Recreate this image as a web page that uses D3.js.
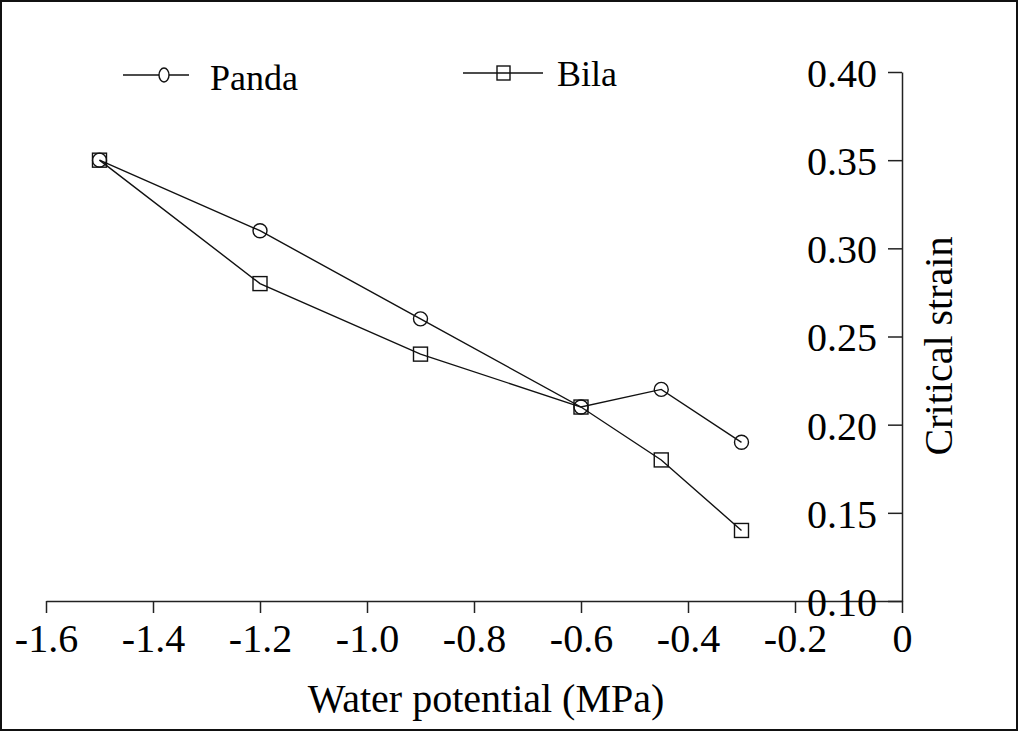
<!DOCTYPE html>
<html lang="en">
<head>
<meta charset="UTF-8">
<title>Critical strain vs water potential</title>
<script src="https://cdn.jsdelivr.net/npm/d3@7"></script>
<style>
    body { margin: 0; padding: 0; background: #fff; }
    svg { display: block; }
    text { font-family: "Liberation Serif", "Times New Roman", serif; fill: #000; }
</style>
</head>
<body>
<div id="chart"></div>
<script>
    const width = 1018;
    const height = 731;

    // data
    const waterPotential = [-1.5, -1.2, -0.9, -0.6, -0.45, -0.3];
    const panda = [0.35, 0.31, 0.26, 0.21, 0.22, 0.19];
    const bila = [0.35, 0.28, 0.24, 0.21, 0.18, 0.14];
    const xTicks = [-1.6, -1.4, -1.2, -1.0, -0.8, -0.6, -0.4, -0.2, 0];
    const yTicks = [0.10, 0.15, 0.20, 0.25, 0.30, 0.35, 0.40];

    const svg = d3.select("#chart").append("svg")
        .attr("width", width)
        .attr("height", height);

    // outer frame
    svg.append("rect")
        .attr("x", 1).attr("y", 1)
        .attr("width", width - 2).attr("height", height - 2)
        .attr("fill", "none")
        .attr("stroke", "#111")
        .attr("stroke-width", 2);

    const x = d3.scaleLinear().domain([-1.6, 0]).range([46, 902]);
    const y = d3.scaleLinear().domain([0.10, 0.40]).range([601, 72]);

    // x axis
    const xAxis = svg.append("g")
        .attr("transform", `translate(0,${y(0.10)})`)
        .call(d3.axisBottom(x).tickValues(xTicks).tickSize(12).tickSizeOuter(0).tickPadding(11)
            .tickFormat(d => d === 0 ? "0" : d.toFixed(1)));
    xAxis.selectAll("text").style("font-size", "40px").attr("font-family", null);

    // y axis on the right side, ticks pointing left
    const yAxis = svg.append("g")
        .attr("transform", `translate(${x(0)},0)`)
        .call(d3.axisLeft(y).tickValues(yTicks).tickSize(14).tickSizeOuter(0).tickPadding(11)
            .tickFormat(d => d.toFixed(2)));
    yAxis.selectAll("text").style("font-size", "40px").attr("dy", "0.36em").attr("font-family", null);

    svg.selectAll(".domain, .tick line").attr("stroke", "#222").attr("stroke-width", 1.5);

    // axis titles
    svg.append("text")
        .attr("x", 486).attr("y", 712)
        .attr("text-anchor", "middle")
        .style("font-size", "40px")
        .text("Water potential (MPa)");

    svg.append("text")
        .attr("transform", "translate(952,346) rotate(-90)")
        .attr("text-anchor", "middle")
        .style("font-size", "40px")
        .text("Critical strain");

    const line = d3.line()
        .x((d, i) => x(waterPotential[i]))
        .y(d => y(d));

    // Panda series (circles)
    svg.append("path")
        .datum(panda)
        .attr("fill", "none")
        .attr("stroke", "#111")
        .attr("stroke-width", 1.4)
        .attr("d", line);

    // Bila series (squares)
    svg.append("path")
        .datum(bila)
        .attr("fill", "none")
        .attr("stroke", "#111")
        .attr("stroke-width", 1.4)
        .attr("d", line);

    svg.selectAll(".panda-pt")
        .data(panda)
        .enter().append("ellipse")
        .attr("class", "panda-pt")
        .attr("cx", (d, i) => x(waterPotential[i]))
        .attr("cy", d => y(d))
        .attr("rx", 7).attr("ry", 7)
        .attr("fill", "none")
        .attr("stroke", "#111")
        .attr("stroke-width", 1.4);

    svg.selectAll(".bila-pt")
        .data(bila)
        .enter().append("rect")
        .attr("class", "bila-pt")
        .attr("x", (d, i) => x(waterPotential[i]) - 7)
        .attr("y", d => y(d) - 7)
        .attr("width", 14).attr("height", 14)
        .attr("fill", "none")
        .attr("stroke", "#111")
        .attr("stroke-width", 1.4);

    // legend
    const legend = svg.append("g");
    legend.append("line")
        .attr("x1", 123).attr("x2", 189).attr("y1", 75).attr("y2", 75)
        .attr("stroke", "#111").attr("stroke-width", 1.4);
    legend.append("ellipse")
        .attr("cx", 164).attr("cy", 75).attr("rx", 5).attr("ry", 7)
        .attr("fill", "#fff").attr("stroke", "#111").attr("stroke-width", 1.4);
    legend.append("text")
        .attr("x", 210).attr("y", 90)
        .style("font-size", "36px")
        .text("Panda");

    legend.append("line")
        .attr("x1", 463).attr("x2", 543).attr("y1", 73).attr("y2", 73)
        .attr("stroke", "#111").attr("stroke-width", 1.4);
    legend.append("rect")
        .attr("x", 497).attr("y", 66).attr("width", 13).attr("height", 14)
        .attr("fill", "none").attr("stroke", "#111").attr("stroke-width", 1.4);
    legend.append("text")
        .attr("x", 557).attr("y", 86)
        .style("font-size", "36px")
        .text("Bila");
</script>
</body>
</html>
